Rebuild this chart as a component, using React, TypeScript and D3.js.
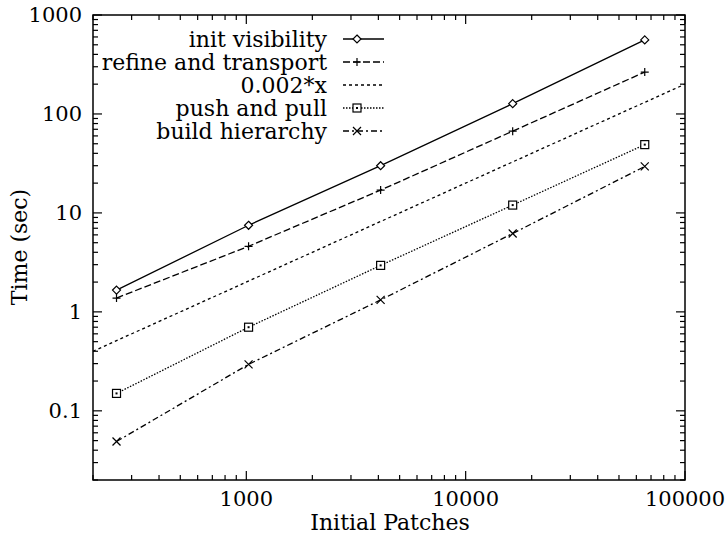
import { useEffect, useRef } from 'react';
import * as d3 from 'd3';

const patches = [256, 1024, 4096, 16384, 65536];
const initVisibility = [1.66, 7.5, 30, 127, 560];
const refineTransport = [1.38, 4.6, 17, 67, 265];
const pushPull = [0.15, 0.7, 2.95, 12, 49];
const buildHierarchy = [0.049, 0.295, 1.32, 6.2, 29.5];
const refCoef = 0.002;
const xTickLabels = [1000, 10000, 100000];
const yTickLabels = [0.1, 1, 10, 100, 1000];

const FONT = '"DejaVu Serif", "Liberation Serif", serif';

export default function App() {
  const svgRef = useRef<SVGSVGElement>(null);

  useEffect(() => {
    if (!svgRef.current) return;
    const svg = d3.select(svgRef.current);
    svg.selectAll('*').remove();

    const left = 93, right = 685, top = 15, bottom = 480;

    const x = d3.scaleLog().domain([200, 100000]).range([left, right]);
    const y = d3.scaleLog().domain([0.02, 1000]).range([bottom, top]);

    const g = svg.append('g');

    // frame
    g.append('rect')
      .attr('x', left).attr('y', top)
      .attr('width', right - left).attr('height', bottom - top)
      .attr('fill', 'none').attr('stroke', '#000').attr('stroke-width', 1.5);

    // y ticks (mirrored on both sides, pointing inward)
    for (let e = -2; e <= 3; e++) {
      for (let m = 1; m <= 9; m++) {
        const v = m * Math.pow(10, e);
        if (v < 0.02 || v > 1000) continue;
        const len = m === 1 ? 9 : 5;
        const yy = y(v);
        g.append('line').attr('x1', left).attr('x2', left + len).attr('y1', yy).attr('y2', yy)
          .attr('stroke', '#000').attr('stroke-width', 1.2);
        g.append('line').attr('x1', right).attr('x2', right - len).attr('y1', yy).attr('y2', yy)
          .attr('stroke', '#000').attr('stroke-width', 1.2);
      }
    }
    // x ticks
    for (let e = 2; e <= 5; e++) {
      for (let m = 1; m <= 9; m++) {
        const v = m * Math.pow(10, e);
        if (v < 200 || v > 100000) continue;
        const len = m === 1 ? 9 : 5;
        const xx = x(v);
        g.append('line').attr('x1', xx).attr('x2', xx).attr('y1', bottom).attr('y2', bottom - len)
          .attr('stroke', '#000').attr('stroke-width', 1.2);
        g.append('line').attr('x1', xx).attr('x2', xx).attr('y1', top).attr('y2', top + len)
          .attr('stroke', '#000').attr('stroke-width', 1.2);
      }
    }

    // tick labels
    yTickLabels.forEach((v) => {
      g.append('text').attr('x', left - 11).attr('y', y(v)).attr('dy', '0.35em')
        .attr('text-anchor', 'end').attr('font-family', FONT).attr('font-size', 21)
        .text(String(v));
    });
    xTickLabels.forEach((v) => {
      g.append('text').attr('x', x(v)).attr('y', bottom + 26)
        .attr('text-anchor', 'middle').attr('font-family', FONT).attr('font-size', 21)
        .text(String(v));
    });

    // axis titles
    g.append('text').attr('x', 390).attr('y', bottom + 50)
      .attr('text-anchor', 'middle').attr('font-family', FONT).attr('font-size', 22)
      .text('Initial Patches');
    g.append('text')
      .attr('transform', `translate(27, 247) rotate(-90)`)
      .attr('text-anchor', 'middle').attr('font-family', FONT).attr('font-size', 22)
      .text('Time (sec)');

    const series = [
      { name: 'init visibility', values: initVisibility, dash: null, marker: 'diamond' },
      { name: 'refine and transport', values: refineTransport, dash: '7,3', marker: 'plus' },
      { name: '0.002*x', values: null, dash: '3,3', marker: null },
      { name: 'push and pull', values: pushPull, dash: '1.5,1.5', marker: 'square' },
      { name: 'build hierarchy', values: buildHierarchy, dash: '6,3,2,3', marker: 'cross' },
    ];

    const drawMarker = (sel: any, type: string | null, cx: number, cy: number) => {
      if (!type) return;
      if (type === 'diamond') {
        sel.append('path')
          .attr('d', `M${cx},${cy - 4}L${cx + 4},${cy}L${cx},${cy + 4}L${cx - 4},${cy}Z`)
          .attr('fill', '#fff').attr('stroke', '#000').attr('stroke-width', 1.2);
      } else if (type === 'plus') {
        sel.append('path')
          .attr('d', `M${cx - 4},${cy}H${cx + 4}M${cx},${cy - 4}V${cy + 4}`)
          .attr('stroke', '#000').attr('stroke-width', 1.2);
      } else if (type === 'square') {
        sel.append('rect').attr('x', cx - 4).attr('y', cy - 4).attr('width', 8).attr('height', 8)
          .attr('fill', '#fff').attr('stroke', '#000').attr('stroke-width', 1.2);
        sel.append('rect').attr('x', cx - 1).attr('y', cy - 1).attr('width', 2).attr('height', 2)
          .attr('fill', '#000');
      } else if (type === 'cross') {
        sel.append('path')
          .attr('d', `M${cx - 4},${cy - 4}L${cx + 4},${cy + 4}M${cx - 4},${cy + 4}L${cx + 4},${cy - 4}`)
          .attr('stroke', '#000').attr('stroke-width', 1.2);
      }
    };

    const line = d3.line<[number, number]>().x((d) => x(d[0])).y((d) => y(d[1]));

    series.forEach((s) => {
      let pts: [number, number][];
      if (s.values) {
        pts = patches.map((p, i) => [p, s.values![i]] as [number, number]);
      } else {
        pts = [[200, refCoef * 200], [100000, refCoef * 100000]];
      }
      g.append('path').attr('d', line(pts) as string)
        .attr('fill', 'none').attr('stroke', '#000').attr('stroke-width', 1.3)
        .attr('stroke-dasharray', s.dash);
      if (s.values) pts.forEach((p) => drawMarker(g, s.marker, x(p[0]), y(p[1])));
    });

    // legend
    series.forEach((s, i) => {
      const ly = 39 + i * 23;
      g.append('text').attr('x', 327).attr('y', ly).attr('dy', '0.35em')
        .attr('text-anchor', 'end').attr('font-family', FONT).attr('font-size', 22)
        .text(s.name);
      g.append('line').attr('x1', 343).attr('x2', 384).attr('y1', ly).attr('y2', ly)
        .attr('stroke', '#000').attr('stroke-width', 1.3).attr('stroke-dasharray', s.dash);
      drawMarker(g, s.marker, 357, ly);
    });
  }, []);

  return (
    <svg ref={svgRef} width={728} height={543}
      style={{ position: 'absolute', left: 0, top: 0, background: '#fff' }} />
  );
}
